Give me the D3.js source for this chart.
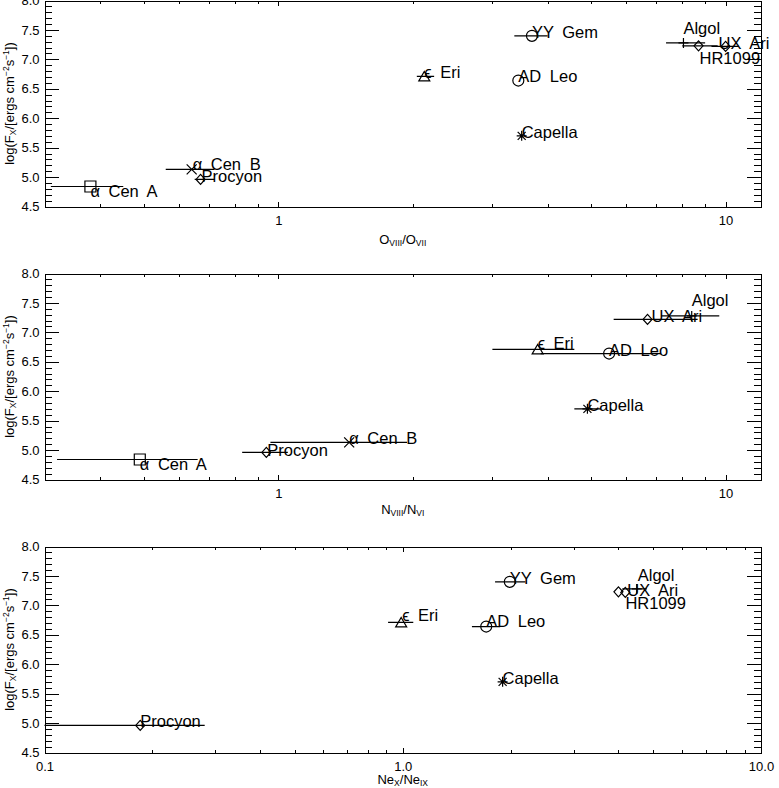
<!DOCTYPE html>
<html>
<head>
<meta charset="utf-8">
<script src="https://cdn.jsdelivr.net/npm/d3@7"></script>
<style>
  body { margin: 0; background: #fff; }
  svg { display: block; font-family: "Liberation Sans", Helvetica, Arial, sans-serif; }
  .axis path, .axis line { stroke: #000; shape-rendering: crispEdges; }
  .axis text { font-size: 13px; fill: #000; }
  .lbl { font-size: 16.5px; word-spacing: 4px; fill: #000; }
</style>
</head>
<body>
<svg width="779" height="788"></svg>
<script>
// stars, in the same order in every array below
var stars = ["\u03b1 Cen A", "\u03b1 Cen B", "Procyon", "\u03f5 Eri", "YY Gem", "AD Leo", "Capella", "Algol", "HR1099", "UX Ari"];
var symbols = ["square", "cross", "diamond", "triangle", "circle", "circle", "asterisk", "plus", "diamond", "diamond"];
var logFx = [4.84, 5.13, 4.96, 6.71, 7.40, 6.64, 5.70, 7.28, 7.23, 7.22];

// O VIII / O VII
var oRatio = [0.38, 0.64, 0.67, 2.12, 3.69, 3.44, 3.50, 8.05, 8.7, 10.0];
var oLo    = [0.31, 0.56, 0.65, 2.04, 3.37, null, null, 7.36, 8.0, 9.3];
var oHi    = [0.45, 0.72, 0.72, 2.23, 4.00, null, null, 9.0, 9.6, 10.7];

// N VII / N VI
var nRatio = [0.49, 1.44, 0.94, 3.80, null, 5.49, 4.91, 8.4, null, 6.69];
var nLo    = [0.32, 0.96, 0.83, 3.01, null, 3.86, 4.59, 7.17, null, 5.62];
var nHi    = [0.66, 1.94, 1.05, 4.59, null, 7.17, 5.26, 9.68, null, 8.66];

// Ne X / Ne IX
var neRatio = [null, null, 0.185, 0.99, 1.99, 1.71, 1.90, 4.50, 4.0, 4.18];
var neLo    = [null, null, 0.08, 0.91, 1.81, 1.56, null, 4.10, null, null];
var neHi    = [null, null, 0.28, 1.07, 2.20, 1.87, null, 4.80, null, null];

var yTicks = [4.5, 5.0, 5.5, 6.0, 6.5, 7.0, 7.5, 8.0];
var xTicks1 = [1, 10], xTicks3 = [0.1, 1.0, 10.0];

var svg = d3.select("svg");
var left = 44.5, right = 761, boxH = 206;

var panels = [
    {top: 0.5, xd: [0.3, 12], ratio: oRatio, lo: oLo, hi: oHi, ticks: xTicks1, fmt: d3.format("d"),
     title: [["O", ""], ["VIII", "sub"], ["/O", ""], ["VII", "sub"]], titleY: 244,
     nudge: {0: [0, 11], 1: [1, 1], 2: [1, 3], 5: [0, 1], 7: [0, -9], 8: [1, 18], 9: [-7, 3]}},
    {top: 273.5, xd: [0.3, 12], ratio: nRatio, lo: nLo, hi: nHi, ticks: xTicks1, fmt: d3.format("d"),
     title: [["N", ""], ["VIII", "sub"], ["/N", ""], ["VI", "sub"]], titleY: 514,
     nudge: {0: [0, 11], 2: [1, 4], 3: [0, 0], 7: [0, -10], 9: [4, 3]}},
    {top: 546.5, xd: [0.1, 10], ratio: neRatio, lo: neLo, hi: neHi, ticks: xTicks3, fmt: d3.format(".1f"),
     title: [["Ne", ""], ["X", "sub"], ["/Ne", ""], ["IX", "sub"]], titleY: 784,
     nudge: {3: [1, -1], 5: [0, 0], 7: [1, -8], 9: [2, 4], 8: [7, 17.5]}}
];

function symbolPath(s) {
    switch (s) {
        case "square": return "M-5.5,-5.5H5.5V5.5H-5.5Z";
        case "cross": return "M-5,-5L5,5M-5,5L5,-5";
        case "diamond": return "M0,-5L4.5,0L0,5L-4.5,0Z";
        case "triangle": return "M0,-5L5.5,4.5H-5.5Z";
        case "asterisk": return "M-5,0H5M0,-5V5M-4,-4L4,4M-4,4L4,-4";
        case "plus": return "M-5,0H5M0,-5V5";
    }
    return null;
}

function minorTicks(domain) {
    var out = [];
    for (var e = -2; e <= 2; e++) {
        for (var m = 2; m <= 9; m++) {
            var v = m * Math.pow(10, e);
            if (v >= domain[0] * 0.999 && v <= domain[1] * 1.001) out.push(v);
        }
    }
    return out;
}

panels.forEach(function (p, pi) {
    var x = d3.scaleLog().domain(p.xd).range([left, right]);
    var y = d3.scaleLinear().domain([4.5, 8.0]).range([p.top + boxH, p.top]);
    var g = svg.append("g");
    var bottom = p.top + boxH;

    // y axes, ticks point inwards
    g.append("g").attr("class", "axis").attr("transform", "translate(" + left + ",0)")
        .call(d3.axisLeft(y).tickValues(yTicks).tickFormat(d3.format(".1f")).tickSize(-14).tickPadding(5));
    g.append("g").attr("class", "axis").attr("transform", "translate(" + left + ",0)")
        .call(d3.axisLeft(y).tickValues(d3.range(4.6, 8.0, 0.1)).tickFormat("").tickSize(-7).tickSizeOuter(0));
    g.append("g").attr("class", "axis").attr("transform", "translate(" + right + ",0)")
        .call(d3.axisRight(y).tickValues(yTicks).tickFormat("").tickSize(-14));
    g.append("g").attr("class", "axis").attr("transform", "translate(" + right + ",0)")
        .call(d3.axisRight(y).tickValues(d3.range(4.6, 8.0, 0.1)).tickFormat("").tickSize(-7).tickSizeOuter(0));

    // x axes
    g.append("g").attr("class", "axis").attr("transform", "translate(0," + bottom + ")")
        .call(d3.axisBottom(x).tickValues(p.ticks).tickFormat(p.fmt).tickSize(-5).tickPadding(9));
    g.append("g").attr("class", "axis").attr("transform", "translate(0," + bottom + ")")
        .call(d3.axisBottom(x).tickValues(minorTicks(p.xd)).tickFormat("").tickSize(-3).tickSizeOuter(0));
    g.append("g").attr("class", "axis").attr("transform", "translate(0," + p.top + ")")
        .call(d3.axisTop(x).tickValues(p.ticks).tickFormat("").tickSize(-5));
    g.append("g").attr("class", "axis").attr("transform", "translate(0," + p.top + ")")
        .call(d3.axisTop(x).tickValues(minorTicks(p.xd)).tickFormat("").tickSize(-3).tickSizeOuter(0));

    // x title with subscripts
    var t = g.append("text").attr("x", (left + right) / 2).attr("y", p.titleY)
        .attr("text-anchor", "middle").style("font-size", "13px");
    p.title.forEach(function (part) {
        var ts = t.append("tspan").text(part[0]);
        if (part[1] === "sub") ts.style("font-size", "8.5px").attr("dy", 2);
        else ts.attr("dy", -2);
    });
    t.select("tspan").attr("dy", 0);

    // y title
    var yt = g.append("text")
        .attr("transform", "translate(14," + (p.top + boxH / 2) + ") rotate(-90)")
        .attr("text-anchor", "middle").style("font-size", "13px");
    yt.append("tspan").text("log(F");
    yt.append("tspan").text("X").style("font-size", "8.5px").attr("dy", 2);
    yt.append("tspan").text("/[ergs cm").attr("dy", -2);
    yt.append("tspan").text("\u22122").style("font-size", "8.5px").attr("dy", -5);
    yt.append("tspan").text("s").attr("dy", 5);
    yt.append("tspan").text("\u22121").style("font-size", "8.5px").attr("dy", -5);
    yt.append("tspan").text("])").attr("dy", 5);

    // clip for data
    var clipId = "clip" + pi;
    svg.append("clipPath").attr("id", clipId).append("rect")
        .attr("x", left).attr("y", p.top).attr("width", right - left).attr("height", boxH);

    var data = stars.map(function (name, i) {
        return {i: i, name: name, sym: symbols[i], v: p.ratio[i], lo: p.lo[i], hi: p.hi[i], fx: logFx[i]};
    }).filter(function (d) { return d.v != null; });

    var dg = g.append("g").attr("clip-path", "url(#" + clipId + ")");

    dg.selectAll("line.err").data(data.filter(function (d) { return d.lo != null; }))
        .enter().append("line").attr("class", "err")
        .attr("x1", function (d) { return x(d.lo); })
        .attr("x2", function (d) { return x(d.hi); })
        .attr("y1", function (d) { return y(d.fx); })
        .attr("y2", function (d) { return y(d.fx); })
        .attr("stroke", "#000").attr("stroke-width", 1.2);

    dg.selectAll("g.mk").data(data).enter().append("g").attr("class", "mk")
        .attr("transform", function (d) { return "translate(" + x(d.v) + "," + y(d.fx) + ")"; })
        .each(function (d) {
            var s = d3.select(this);
            if (d.sym === "circle") s.append("circle").attr("r", 5.5);
            else s.append("path").attr("d", symbolPath(d.sym));
            s.selectAll("*").attr("fill", "none").attr("stroke", "#000").attr("stroke-width", 1.2);
        });

    g.selectAll("text.lbl").data(data).enter().append("text").attr("class", "lbl")
        .attr("x", function (d) { return x(d.v) + (p.nudge[d.i] ? p.nudge[d.i][0] : 0); })
        .attr("y", function (d) { return y(d.fx) + (p.nudge[d.i] ? p.nudge[d.i][1] : 2); })
        .text(function (d) { return d.name; });
});
</script>
</body>
</html>
